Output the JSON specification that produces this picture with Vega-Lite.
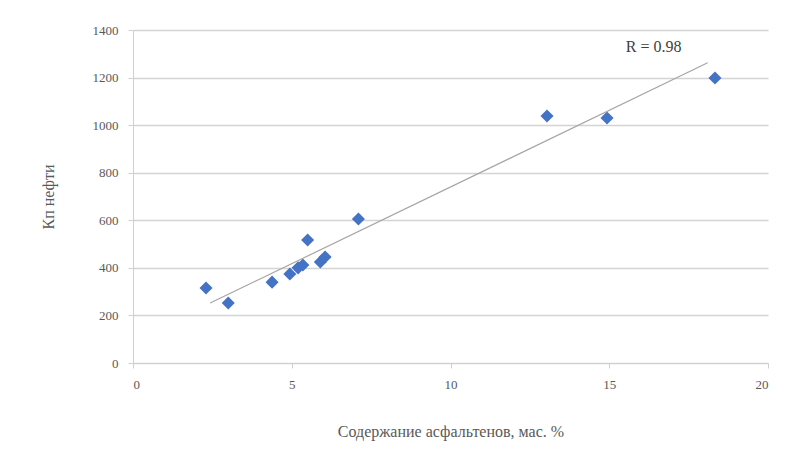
{
  "$schema": "https://vega.github.io/schema/vega-lite/v6.json",
  "width": 635,
  "height": 333,
  "autosize": "none",
  "padding": {"left": 133, "top": 30, "right": 21, "bottom": 89},
  "background": "white",
  "config": {
    "view": {"stroke": null},
    "font": "Liberation Serif",
    "axis": {
      "labelFont": "Liberation Serif",
      "titleFont": "Liberation Serif",
      "labelColor": "#595959",
      "titleColor": "#595959",
      "labelFontSize": 13,
      "titleFontSize": 16,
      "titleFontWeight": "normal"
    }
  },
  "datasets": {
    "points": [
      {"asph": 2.3, "k": 315},
      {"asph": 3.0, "k": 252},
      {"asph": 4.38, "k": 340},
      {"asph": 4.94, "k": 374},
      {"asph": 5.2, "k": 400},
      {"asph": 5.35, "k": 412},
      {"asph": 5.9, "k": 425},
      {"asph": 6.05, "k": 446},
      {"asph": 5.5, "k": 517},
      {"asph": 7.1, "k": 605},
      {"asph": 13.04, "k": 1038},
      {"asph": 14.93, "k": 1030},
      {"asph": 18.33, "k": 1198}
    ],
    "trend": [
      {"asph": 2.43, "k": 252},
      {"asph": 18.1, "k": 1262}
    ],
    "label": [
      {"asph": 16.4, "k": 1330, "text": "R = 0.98"}
    ]
  },
  "layer": [
    {
      "data": {"name": "points"},
      "mark": {"type": "point", "shape": "diamond", "filled": true, "color": "#4472C4", "size": 170, "opacity": 1},
      "encoding": {
        "x": {
          "field": "asph", "type": "quantitative",
          "scale": {"domain": [0, 20], "nice": false},
          "axis": {
            "title": "Содержание асфальтенов, мас. %",
            "values": [0, 5, 10, 15, 20],
            "format": "d",
            "grid": false,
            "domainColor": "#d0d0d0",
            "tickColor": "#d0d0d0",
            "tickSize": 5,
            "labelPadding": 10,
            "titlePadding": 32
          }
        },
        "y": {
          "field": "k", "type": "quantitative",
          "scale": {"domain": [0, 1400], "nice": false},
          "axis": {
            "title": "Кп нефти",
            "values": [0, 200, 400, 600, 800, 1000, 1200, 1400],
            "format": "d",
            "grid": true,
            "gridColor": "#d4d4d4",
            "gridWidth": 1.5,
            "domainColor": "#d0d0d0",
            "tickColor": "#d0d0d0",
            "tickSize": 5,
            "labelPadding": 10,
            "titlePadding": 36
          }
        }
      }
    },
    {
      "data": {"name": "trend"},
      "mark": {"type": "line", "color": "#a6a6a6", "strokeWidth": 1.2},
      "encoding": {
        "x": {"field": "asph", "type": "quantitative"},
        "y": {"field": "k", "type": "quantitative"}
      }
    },
    {
      "data": {"name": "label"},
      "mark": {"type": "text", "font": "Liberation Serif", "fontSize": 16, "color": "#404040"},
      "encoding": {
        "x": {"field": "asph", "type": "quantitative"},
        "y": {"field": "k", "type": "quantitative"},
        "text": {"field": "text"}
      }
    }
  ]
}
